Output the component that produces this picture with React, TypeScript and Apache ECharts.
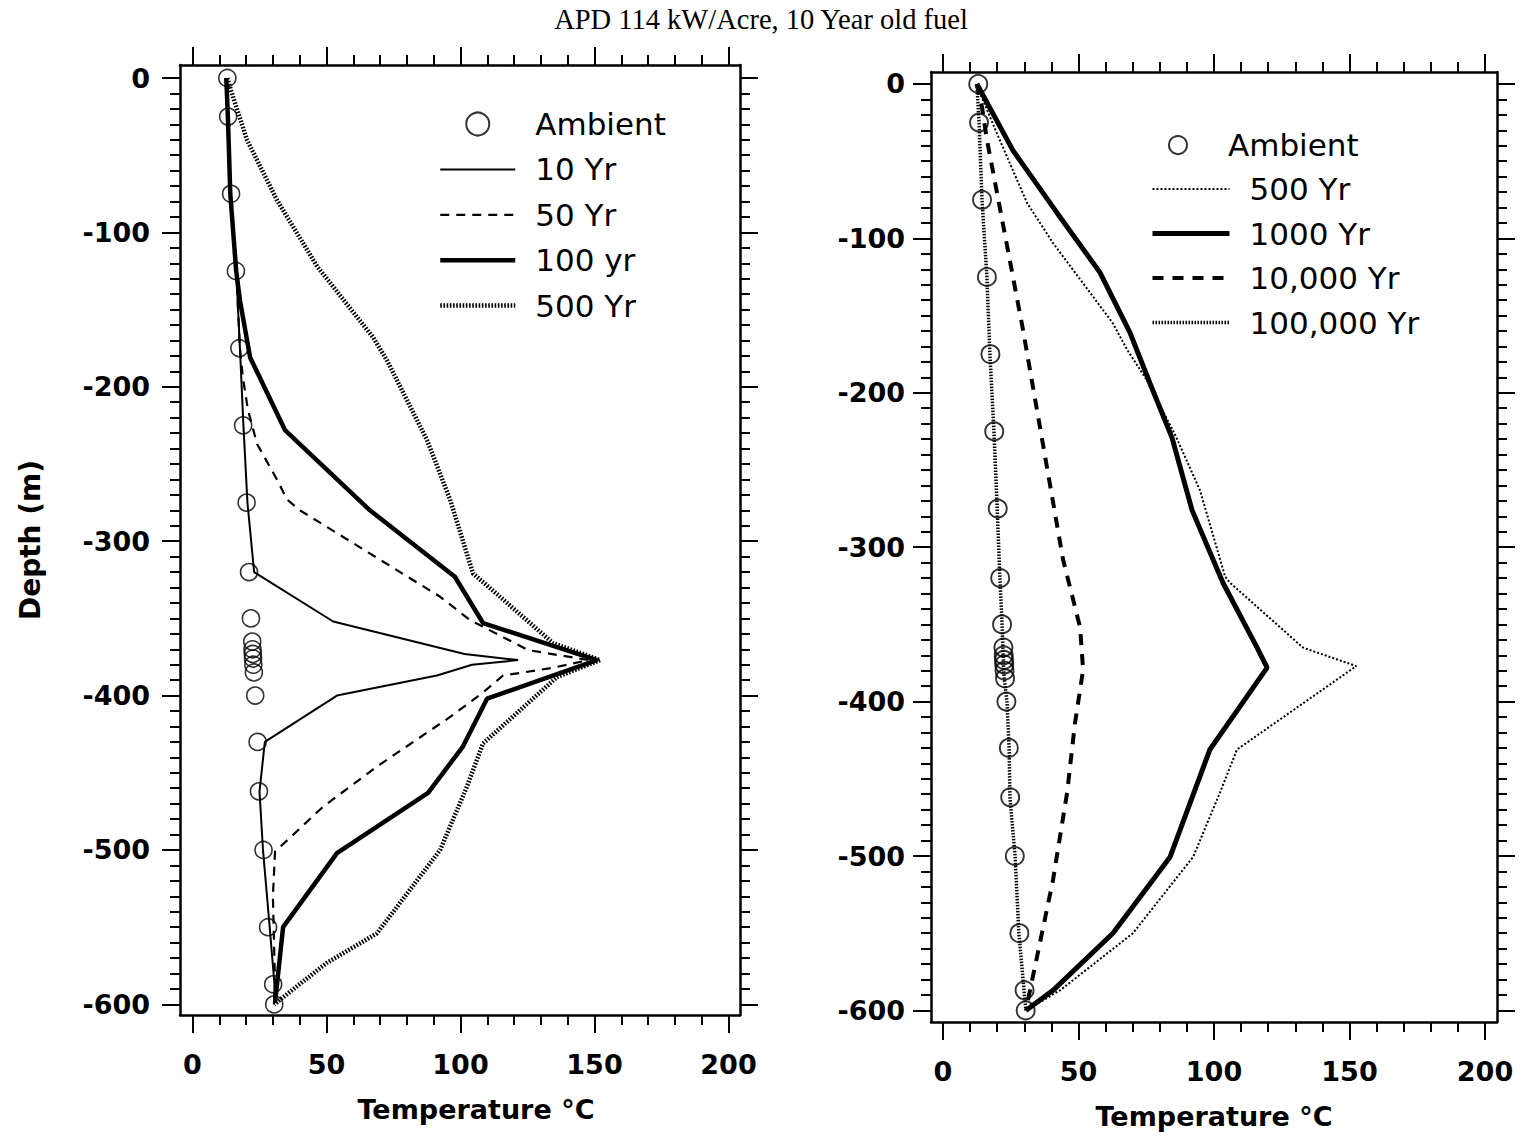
import React, { useEffect, useRef } from 'react';
import * as echarts from 'echarts';

// ---------------- data (temperature °C, depth m) ----------------
const ambientDepth = [0, -25, -75, -125, -175, -225, -275, -320, -350, -365, -370, -373, -376, -380, -385, -400, -430, -462, -500, -550, -587, -600];
const ambientTemp = [13, 13.3, 14.4, 16.2, 17.5, 18.9, 20.2, 21.1, 21.8, 22.3, 22.4, 22.5, 22.6, 22.7, 22.9, 23.4, 24.3, 24.8, 26.5, 28.2, 30.1, 30.5];

const left10Yr: [number, number][] = [
  [12.6, 0], [13.2, -25], [14.1, -75], [16.3, -125], [17.7, -175], [19, -225], [20.5, -275], [23, -320],
  [52.5, -352], [101.5, -373], [121.5, -377], [104.3, -380], [91.2, -387], [53.9, -400], [27, -430],
  [25, -462], [26.3, -500], [28.8, -550], [30.6, -587], [30.4, -600],
];
const left50Yr: [number, number][] = [
  [12.6, 0], [13.2, -25], [14.1, -75], [16.3, -125], [17.7, -175], [18.8, -194], [20.7, -215], [24.1, -237],
  [31.5, -260], [35.3, -273], [40.1, -280], [62.5, -304], [92.4, -336], [103.5, -351], [125.2, -370.5],
  [147.8, -377], [134.5, -382], [115.9, -387], [108.4, -398], [96, -414], [68.8, -446], [48.7, -472],
  [36.4, -492], [30.8, -501], [30, -530], [30.8, -587], [30.4, -600],
];
const left100Yr: [number, number][] = [
  [12.6, 0], [13.2, -25], [14.1, -75], [16.3, -125], [17.7, -144], [21.5, -181], [34.5, -228], [66.2, -280],
  [97.9, -323], [108.4, -353], [150.9, -377], [109.9, -402], [100.9, -433], [87.9, -463], [53.9, -502],
  [33.8, -550], [30.8, -599],
];
const left500Yr: [number, number][] = [
  [13, 0], [14, -6], [20.3, -40], [31.5, -79], [46.5, -122], [67.4, -168], [72.6, -183], [87.5, -234.5],
  [96.1, -273], [104.7, -321], [112.1, -332], [134.5, -366], [152.1, -377], [136, -388], [108.4, -431],
  [102.4, -459], [92.4, -500], [68.8, -554], [50.2, -573], [32.6, -597], [30.5, -600],
];

const right500Yr: [number, number][] = [
  [12.5, 0], [13.7, -6], [19.9, -32], [31, -77], [40.6, -103], [62.7, -155], [67.9, -172], [75.3, -192],
  [85.6, -227], [94.8, -263], [104.1, -319], [105.9, -323], [132.8, -365], [152.5, -377], [108.5, -431],
  [102.2, -459], [92.3, -500.6], [70.1, -550], [43.2, -587], [30.6, -600],
];
const right1000Yr: [number, number][] = [
  [12.5, 0], [25.8, -43], [42.1, -83.5], [57.9, -122], [69, -161], [76.4, -194], [84.5, -229], [91.9, -276],
  [103.3, -323], [115.9, -365], [119.6, -378], [98.5, -431], [83.8, -500.6], [62.7, -550], [40.6, -587],
  [30.6, -600],
];
const right10000Yr: [number, number][] = [
  [12.5, 0], [14.4, -15], [16.2, -36], [29.5, -159], [44.3, -308], [50.6, -352], [51.7, -379.5], [48.7, -414],
  [45.8, -459], [40.6, -515.5], [35.8, -556], [32.1, -587], [30.6, -600],
];
const right100000Yr: [number, number][] = [
  [12.5, 0], [13.3, -25], [14.4, -75], [16.2, -125], [17.3, -175], [18.8, -225], [20, -275], [21, -320],
  [21.8, -350], [22.1, -365], [22.2, -370], [22.3, -373], [22.3, -376], [22.4, -380], [22.6, -385],
  [23.6, -400], [24.4, -430], [24.7, -462], [26.6, -500], [28, -550], [29.9, -587], [30.6, -600],
];

const xMajorTicks = [0, 50, 100, 150, 200];
const yMajorTicks = [0, -100, -200, -300, -400, -500, -600];
const xMinorTicks = Array.from({ length: 21 }, (_, i) => i * 10);
const yMinorTicks = Array.from({ length: 61 }, (_, i) => -i * 10);

const titleText = 'APD 114 kW/Acre, 10 Year old fuel';
const xName = 'Temperature °C';
const yName = 'Depth (m)';

// ---------------- layout ----------------
const GRIDS = [
  { left: 180, top: 65, width: 560, height: 950, x: [-4.664, 204.29], y: [-606.87, 8.42] },
  { left: 931, top: 72, width: 566, height: 950, x: [-4.428, 204.43], y: [-607.51, 7.77] },
];

const labelFont = { fontFamily: 'DejaVu Sans', fontWeight: 'bold' as const, fontSize: 27, color: '#000' };
const nameFont = { fontFamily: 'DejaVu Sans', fontWeight: 'bold' as const, fontSize: 27, color: '#000' };
const hiddenItem = { color: 'rgba(0,0,0,0)', borderColor: 'rgba(0,0,0,0)', borderWidth: 0 };
const circleItem = { color: 'rgba(0,0,0,0)', borderColor: '#000', borderWidth: 2 };

function tick(vals: number[], len: number) {
  return { show: true, customValues: vals, length: len, lineStyle: { color: '#000', width: 2 } };
}
const shownLine = { show: true, onZero: false, lineStyle: { color: '#000', width: 2.5 } };
const noLine = { show: false, onZero: false };

function xAxes(gi: number, namePad: number[], nameGap: number) {
  const g = GRIDS[gi];
  const base = { type: 'value', gridIndex: gi, min: g.x[0], max: g.x[1], splitLine: { show: false } };
  return [
    {
      ...base, position: 'bottom', axisLine: shownLine, axisTick: tick(xMajorTicks, 18),
      axisLabel: { show: true, customValues: xMajorTicks, margin: 36, ...labelFont },
      name: xName, nameLocation: 'middle', nameGap, nameMoveOverlap: false,
      nameTextStyle: { ...nameFont, padding: namePad },
    },
    { ...base, position: 'bottom', axisLine: noLine, axisTick: tick(xMinorTicks, 10), axisLabel: { show: false } },
    { ...base, position: 'top', axisLine: shownLine, axisTick: tick(xMajorTicks, 18), axisLabel: { show: false } },
    { ...base, position: 'top', axisLine: noLine, axisTick: tick(xMinorTicks, 10), axisLabel: { show: false } },
  ];
}

function yAxes(gi: number, labelMargin: number, withName: boolean) {
  const g = GRIDS[gi];
  const base = { type: 'value', gridIndex: gi, min: g.y[0], max: g.y[1], splitLine: { show: false } };
  const nameOpts = withName
    ? { name: yName, nameLocation: 'middle', nameRotate: 90, nameGap: 136, nameTextStyle: { ...nameFont, fontSize: 28 } }
    : {};
  return [
    {
      ...base, position: 'left', axisLine: shownLine, axisTick: tick(yMajorTicks, 18),
      axisLabel: { show: true, customValues: yMajorTicks, margin: labelMargin, ...labelFont }, ...nameOpts,
    },
    { ...base, position: 'left', axisLine: noLine, axisTick: tick(yMinorTicks, 10), axisLabel: { show: false } },
    { ...base, position: 'right', axisLine: shownLine, axisTick: tick(yMajorTicks, 18), axisLabel: { show: false } },
    { ...base, position: 'right', axisLine: noLine, axisTick: tick(yMinorTicks, 10), axisLabel: { show: false } },
  ];
}

function lineSeries(name: string, axis: number, data: [number, number][], width: number, type: any) {
  return {
    type: 'line', name, xAxisIndex: axis, yAxisIndex: axis, data, symbol: 'none', silent: true, z: 3,
    lineStyle: { color: '#000', width, type },
  };
}

function ambientSeries(name: string, axis: number, size: number, bw: number) {
  return {
    type: 'scatter', name, xAxisIndex: axis, yAxisIndex: axis, silent: true, z: 4,
    data: ambientTemp.map((t, i) => [t, ambientDepth[i]]),
    symbol: 'circle', symbolSize: size,
    itemStyle: { color: 'rgba(0,0,0,0)', borderColor: '#000', borderWidth: bw },
  };
}

const legendText = (pad: number, lh: number) => ({
  fontFamily: 'DejaVu Sans', fontSize: 31, color: '#000', lineHeight: lh, padding: [0, 0, 0, pad],
});
const stripR = (n: string) => n.replace(/^R·/, '');

export default function App() {
  const ref = useRef<HTMLDivElement>(null);
  useEffect(() => {
    if (!ref.current) return;
    const chart = echarts.init(ref.current, null, { renderer: 'svg' });
    const option: any = {
      animation: false,
      backgroundColor: '#fff',
      title: {
        text: titleText, left: 'center', top: 5, padding: 0,
        textStyle: { fontFamily: 'Liberation Serif', fontWeight: 'normal', fontSize: 28.5, color: '#000' },
      },
      grid: GRIDS.map((g) => ({ left: g.left, top: g.top, width: g.width, height: g.height, containLabel: false })),
      xAxis: [...xAxes(0, [0, 0, 0, 32], 81), ...xAxes(1, [0, 0, 0, 0], 81)],
      yAxis: [...yAxes(0, 30, true), ...yAxes(1, 26, false)],
      legend: [
        {
          orient: 'vertical', left: 438, top: 101.3, padding: 0, itemGap: 0, itemWidth: 75, itemHeight: 23,
          selectedMode: false, textStyle: legendText(15, 45.4),
          lineStyle: { width: 'inherit', type: 'inherit' },
          data: [
            { name: 'Ambient', icon: 'circle', itemStyle: circleItem },
            { name: '10 Yr', itemStyle: hiddenItem },
            { name: '50 Yr', itemStyle: hiddenItem },
            { name: '100 yr', itemStyle: hiddenItem },
            { name: '500 Yr', itemStyle: hiddenItem },
          ],
        },
        {
          orient: 'vertical', left: 1168, top: 122.8, padding: 0, itemGap: 0, itemWidth: 18, itemHeight: 18,
          selectedMode: false, textStyle: legendText(36, 44.5), formatter: stripR,
          data: [{ name: 'R·Ambient', icon: 'circle', itemStyle: circleItem }],
        },
        {
          orient: 'vertical', left: 1150, top: 166.8, padding: 0, itemGap: 0, itemWidth: 77, itemHeight: 18,
          selectedMode: false, textStyle: legendText(15, 44.5), formatter: stripR,
          lineStyle: { width: 'inherit', type: 'inherit' },
          data: [
            { name: 'R·500 Yr', itemStyle: hiddenItem },
            { name: '1000 Yr', itemStyle: hiddenItem },
            { name: '10,000 Yr', itemStyle: hiddenItem },
            { name: '100,000 Yr', itemStyle: hiddenItem },
          ],
        },
      ],
      series: [
        ambientSeries('Ambient', 0, 17, 1.6),
        lineSeries('10 Yr', 0, left10Yr, 2, 'solid'),
        lineSeries('50 Yr', 0, left50Yr, 2.2, [9, 7]),
        lineSeries('100 yr', 0, left100Yr, 4.5, 'solid'),
        lineSeries('500 Yr', 0, left500Yr, 4.5, [1.6, 1.6]),
        ambientSeries('R·Ambient', 4, 18, 1.9),
        lineSeries('R·500 Yr', 4, right500Yr, 2, [2, 2]),
        lineSeries('1000 Yr', 4, right1000Yr, 5, 'solid'),
        lineSeries('10,000 Yr', 4, right10000Yr, 4, [11, 9]),
        lineSeries('100,000 Yr', 4, right100000Yr, 3.5, [1.5, 1.5]),
      ],
    };
    chart.setOption(option);
    return () => chart.dispose();
  }, []);
  return <div ref={ref} style={{ position: 'fixed', left: 0, top: 0, width: 1522, height: 1137 }} />;
}
